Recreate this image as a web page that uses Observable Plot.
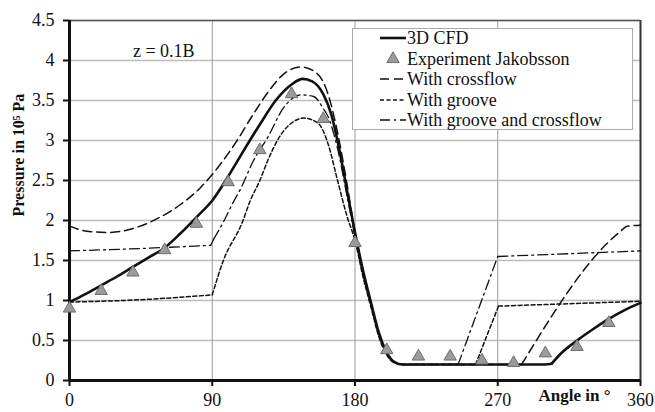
<!DOCTYPE html>
<html>
<head>
<meta charset="utf-8">
<script src="https://cdn.jsdelivr.net/npm/d3@7"></script>
<script src="https://cdn.jsdelivr.net/npm/@observablehq/plot@0.6"></script>
<style>
  body { margin: 0; background: white; }
  #wrap { position: relative; width: 655px; height: 412px; font-family: "Liberation Serif", "Times New Roman", serif; }
  #legend { position: absolute; left: 352px; top: 28px; width: 279px; height: 100px; border: 1px solid #aaa; background: white; }
  .row { position: absolute; left: 0; height: 20px; line-height: 20px; font-size: 18px; color: #111; white-space: nowrap; }
  .row svg { position: absolute; left: 25px; top: 0; }
  .row span { position: absolute; left: 54px; top: 0; }
</style>
</head>
<body>
<div id="wrap"></div>
<script>
// ---- Data ----
const xTicks = [0, 90, 180, 270, 360];
const yTicks = [0, 0.5, 1, 1.5, 2, 2.5, 3, 3.5, 4, 4.5];

const seriesNames = ["3D CFD", "Experiment Jakobsson", "With crossflow", "With groove", "With groove and crossflow"];

// 3D CFD (solid)
const cfdAngle    = [0, 10, 20, 30, 40, 50, 60, 70, 80, 90, 100, 110, 120, 130, 140, 147, 153, 160, 165, 170, 175, 180, 185, 190, 195, 200, 205, 210, 300, 304, 310, 320, 330, 340, 350, 360];
const cfdPressure = [0.98, 1.08, 1.19, 1.3, 1.42, 1.54, 1.66, 1.84, 2.04, 2.25, 2.55, 2.88, 3.2, 3.5, 3.7, 3.77, 3.74, 3.58, 3.33, 2.9, 2.37, 1.85, 1.38, 0.98, 0.6, 0.35, 0.23, 0.2, 0.2, 0.21, 0.34, 0.5, 0.64, 0.77, 0.88, 0.97];
const cfdKinks    = [304];

// Experiment Jakobsson (triangles)
const expAngle    = [0, 20, 40, 60, 80, 100, 120, 140, 160, 180, 200, 220, 240, 260, 280, 300, 320, 340];
const expPressure = [0.9, 1.12, 1.35, 1.63, 1.96, 2.48, 2.88, 3.58, 3.27, 1.72, 0.38, 0.3, 0.3, 0.25, 0.22, 0.34, 0.42, 0.72];

// With crossflow (long dash)
const crossAngle    = [0, 10, 25, 40, 55, 70, 83, 95, 105, 115, 125, 135, 146, 156, 163, 169, 175, 180, 185, 190, 195, 200, 205, 210, 285, 346, 352, 360];
const crossPressure = [1.93, 1.87, 1.85, 1.9, 2.02, 2.2, 2.42, 2.7, 2.98, 3.3, 3.6, 3.83, 3.92, 3.84, 3.58, 3.1, 2.45, 1.85, 1.38, 0.98, 0.6, 0.35, 0.23, 0.2, 0.2, 1.84, 1.93, 1.94];
const crossKinks    = [285];

// With groove (short dash)
const grooveAngle    = [0, 45, 90, 97, 109, 114, 120, 125, 135, 148, 157, 163, 169, 175, 180, 185, 190, 195, 200, 205, 210, 256, 270.5, 360];
const groovePressure = [0.98, 1.01, 1.07, 1.5, 1.98, 2.25, 2.5, 2.75, 3.12, 3.28, 3.21, 2.96, 2.5, 2.05, 1.75, 1.3, 0.92, 0.55, 0.32, 0.22, 0.2, 0.2, 0.93, 0.99];
const grooveKinks    = [90, 256, 270.5];

// With groove and crossflow (dash-dot)
const gcAngle    = [0, 45, 89, 91, 97, 103, 108, 116, 125, 135, 146, 154, 160, 163, 169, 175, 180, 185, 190, 195, 200, 205, 210, 245, 270, 360];
const gcPressure = [1.62, 1.65, 1.69, 1.77, 1.98, 2.22, 2.4, 2.75, 3.04, 3.41, 3.57, 3.55, 3.4, 3.3, 2.9, 2.3, 1.8, 1.33, 0.95, 0.57, 0.33, 0.22, 0.2, 0.2, 1.55, 1.62];
const gcKinks    = [89, 91, 245, 270];

// ---- Build tables (split at sharp corners so the smooth curve keeps them sharp) ----
const toRows = (xs, ys) => xs.map((x, i) => ({angle: x, p: ys[i]}));
function segmented(xs, ys, kinks) {
  const out = [];
  let seg = 0;
  xs.forEach((x, i) => {
    out.push({angle: x, p: ys[i], seg});
    if (kinks.includes(x) && i > 0 && i < xs.length - 1) {
      seg++;
      out.push({angle: x, p: ys[i], seg});
    }
  });
  return out;
}
const cfd = segmented(cfdAngle, cfdPressure, cfdKinks);
const exp = toRows(expAngle, expPressure);
const cross = segmented(crossAngle, crossPressure, crossKinks);
const groove = segmented(grooveAngle, groovePressure, grooveKinks);
const gc = segmented(gcAngle, gcPressure, gcKinks);

const ink = "#111";
const dashCross = "9,5";
const dashGroove = "4,2.5";
const dashGC = "10,4,2,4";

const chart = Plot.plot({
  width: 655,
  height: 412,
  marginLeft: 69,
  marginRight: 15,
  marginTop: 20,
  marginBottom: 32,
  style: {fontFamily: "'Liberation Serif', 'Times New Roman', serif", fontSize: "18px", color: ink, background: "white", overflow: "visible"},
  x: {domain: [0, 360], label: null},
  y: {domain: [0, 4.5], label: null},
  marks: [
    Plot.gridY(yTicks, {stroke: "#bdbdbd", strokeOpacity: 1, strokeWidth: 1.3}),
    Plot.gridX([90, 180, 270], {stroke: "#9a9a9a", strokeOpacity: 1, strokeWidth: 1}),
    Plot.ruleY([4.5], {stroke: "#555", strokeWidth: 1.6}),
    Plot.ruleX([360], {stroke: "#333", strokeWidth: 2}),
    Plot.axisY(yTicks, {tickSize: 6, tickPadding: 9, tickFormat: d => String(d), stroke: ink, strokeWidth: 2, fontSize: 18, label: null}),
    Plot.axisX(xTicks, {tickSize: 6, tickPadding: 7, tickFormat: d => String(d), stroke: ink, strokeWidth: 2, fontSize: 18, label: null}),
    Plot.ruleX([0], {stroke: ink, strokeWidth: 3}),
    Plot.ruleY([0], {stroke: ink, strokeWidth: 3}),
    Plot.line(groove, {x: "angle", y: "p", z: "seg", stroke: ink, strokeWidth: 1.5, strokeDasharray: dashGroove, curve: "monotone-x"}),
    Plot.line(gc, {x: "angle", y: "p", z: "seg", stroke: ink, strokeWidth: 1.3, strokeDasharray: dashGC, curve: "monotone-x"}),
    Plot.line(cross, {x: "angle", y: "p", z: "seg", stroke: ink, strokeWidth: 1.5, strokeDasharray: dashCross, curve: "monotone-x"}),
    Plot.line(cfd, {x: "angle", y: "p", z: "seg", stroke: ink, strokeWidth: 2.6, curve: "monotone-x"}),
    Plot.dot(exp, {x: "angle", y: "p", symbol: "triangle", r: 4.6, fill: "#9b9b9b", stroke: "#6e6e6e", strokeWidth: 1}),
    Plot.text(["z = 0.1B"], {x: 40, y: 4.04, textAnchor: "start", lineAnchor: "bottom", fontSize: 18, fill: ink}),
    Plot.text(["Pressure in 10⁵ Pa"], {frameAnchor: "left", rotate: -90, dx: -51, dy: 16, fontWeight: "bold", fontSize: 16, fill: ink}),
    Plot.text(["Angle in °"], {frameAnchor: "bottom-right", textAnchor: "end", dx: -30, dy: 20, fontWeight: "bold", fontSize: 17, fill: ink})
  ]
});

const wrap = document.getElementById("wrap");
wrap.appendChild(chart);

// ---- Legend ----
const legend = document.createElement("div");
legend.id = "legend";
const samples = [
  `<line x1="2" x2="28" y1="10" y2="10" stroke="${ink}" stroke-width="2.6"/>`,
  `<path d="${d3.symbol(d3.symbolTriangle, Math.PI * 4.6 * 4.6)()}" transform="translate(15,10)" fill="#9b9b9b" stroke="#6e6e6e"/>`,
  `<line x1="2" x2="28" y1="10" y2="10" stroke="${ink}" stroke-width="1.5" stroke-dasharray="${dashCross}"/>`,
  `<line x1="2" x2="28" y1="10" y2="10" stroke="${ink}" stroke-width="1.5" stroke-dasharray="${dashGroove}"/>`,
  `<line x1="2" x2="28" y1="10" y2="10" stroke="${ink}" stroke-width="1.5" stroke-dasharray="${dashGC}"/>`
];
seriesNames.forEach((name, i) => {
  const row = document.createElement("div");
  row.className = "row";
  row.style.top = (20.5 * i - 1) + "px";
  row.innerHTML = `<svg width="30" height="20">${samples[i]}</svg><span>${name}</span>`;
  legend.appendChild(row);
});
wrap.appendChild(legend);
</script>
</body>
</html>
